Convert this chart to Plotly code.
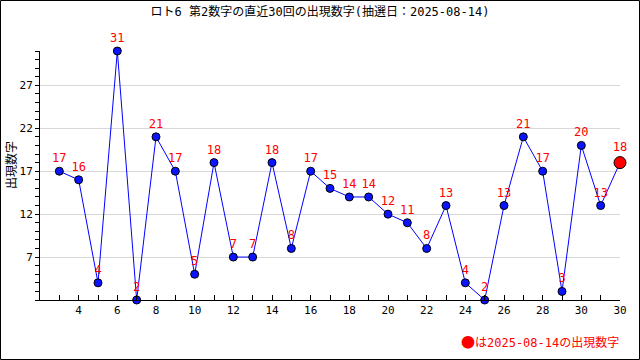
import plotly.graph_objects as go

# draw positions on the x axis and the second-number values
positions = list(range(3, 33))
values = [17, 16, 4, 31, 2, 21, 17, 5, 18, 7, 7, 18, 8, 17, 15, 14, 14, 12, 11, 8,
          13, 4, 2, 13, 21, 17, 3, 20, 13, 18]
x_tickvals = [4, 6, 8, 10, 12, 14, 16, 18, 20, 22, 24, 26, 28, 30, 32]
x_ticktext = ["4", "6", "8", "10", "12", "14", "16", "18", "20", "22", "24", "26", "28", "30", "30"]
y_tickvals = [7, 12, 17, 22, 27]
title_text = "ロト6 第2数字の直近30回の出現数字(抽選日：2025-08-14)"
y_title = "出現数字"
note_mark = "●"
note_text = "は2025-08-14の出現数字"

FONT = "DejaVu Sans Mono, Noto Sans CJK JP"
W, H = 640, 360
L, R, T, B = 40, 20, 51, 60
pw, ph = W - L - R, H - T - B

marker_colors = ["#0a14ff"] * (len(values) - 1) + ["#ff0000"]
marker_sizes = [8] * (len(values) - 1) + [12]

fig = go.Figure()
fig.add_trace(go.Scatter(
    x=positions, y=values,
    mode="lines+markers+text",
    line=dict(color="#0000ff", width=1),
    marker=dict(color=marker_colors, size=marker_sizes, opacity=1,
                line=dict(color="black", width=1)),
    text=[str(v) for v in values],
    textposition="top center",
    textfont=dict(color="#ff0000", size=12, family=FONT),
    cliponaxis=False,
    hoverinfo="skip",
))

fig.update_layout(
    width=W, height=H,
    margin=dict(l=L, r=R, t=T, b=B),
    paper_bgcolor="white", plot_bgcolor="white",
    showlegend=False,
    title=dict(text=title_text, x=0.5, xanchor="center", y=1 - 12 / H, yanchor="middle",
               font=dict(family=FONT, size=12, color="black")),
    font=dict(family=FONT, size=11, color="black"),
    xaxis=dict(range=[2, 32], tickvals=x_tickvals, ticktext=x_ticktext,
               ticks="inside", ticklen=5, tickcolor="black",
               minor=dict(dtick=1, tick0=0, ticks="inside", ticklen=5, tickcolor="black"),
               showgrid=False, zeroline=False, showline=True, linecolor="black", linewidth=1,
               tickfont=dict(family=FONT, size=11, color="black")),
    yaxis=dict(range=[2, 31], tickvals=y_tickvals,
               ticks="outside", ticklen=4, tickcolor="black",
               minor=dict(dtick=1, tick0=0, ticks="outside", ticklen=4, tickcolor="black", showgrid=False),
               showgrid=True, gridcolor="#d8d8d8", gridwidth=1,
               zeroline=False, showline=True, linecolor="black", linewidth=1,
               tickfont=dict(family=FONT, size=11, color="black")),
)

fig.add_annotation(text=y_title, xref="paper", yref="paper",
                   x=(11 - L) / pw, y=(T + ph - 165) / ph, xanchor="center", yanchor="middle",
                   textangle=-90, showarrow=False, font=dict(family=FONT, size=12, color="black"))
fig.add_annotation(text='<span style="font-family:Noto Sans CJK JP;font-size:14px">' + note_mark
                   + '</span>' + note_text,
                   xref="paper", yref="paper",
                   x=(621 - L) / pw, y=(T + ph - 341) / ph, xanchor="right", yanchor="middle",
                   showarrow=False, font=dict(family=FONT, size=12, color="#ff0000"))
fig.add_shape(type="rect", xref="paper", yref="paper",
              x0=(0.5 - L) / pw, x1=(W - 0.5 - L) / pw,
              y0=(T + ph - (H - 0.5)) / ph, y1=(T + ph - 0.5) / ph,
              line=dict(color="black", width=1), fillcolor="rgba(0,0,0,0)", layer="above")

fig.write_html("out.html", config={"displayModeBar": False, "staticPlot": True},
               post_script="document.body.style.margin='0';document.body.style.padding='0';")
